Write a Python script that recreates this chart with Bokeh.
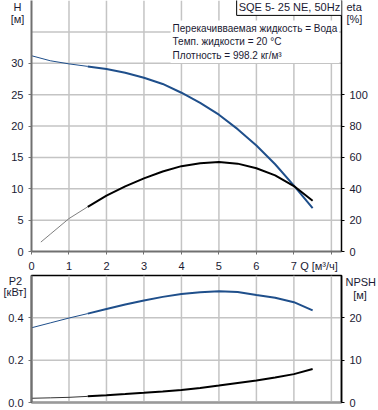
from bokeh.plotting import figure
from bokeh.models import Range1d, LinearAxis, FixedTicker, Label, PrintfTickFormatter, GridBox
from bokeh.core.properties import value
from bokeh.embed import file_html
from bokeh.resources import INLINE

# ---- data ----
Q = [0, 0.5, 1, 1.5, 2, 2.5, 3, 3.5, 4, 4.5, 5, 5.5, 6, 6.5, 7, 7.5]
H = [31.2, 30.4, 29.9, 29.5, 29.1, 28.5, 27.7, 26.7, 25.3, 23.7, 21.8, 19.5, 16.9, 13.9, 10.5, 6.9]
Q_eta = [0.25, 0.5, 1, 1.5, 2, 2.5, 3, 3.5, 4, 4.5, 5, 5.5, 6, 6.5, 7, 7.5]
ETA = [6, 11, 21, 28.5, 35.6, 41.5, 46.6, 51, 54.4, 56.3, 57, 56, 53.1, 48.5, 41.7, 32.3]
P2 = [0.353, 0.376, 0.399, 0.42, 0.442, 0.463, 0.482, 0.499, 0.513, 0.521, 0.526, 0.522, 0.508, 0.495, 0.474, 0.435]
NPSH = [1.0, 1.1, 1.22, 1.45, 1.7, 1.98, 2.28, 2.6, 2.95, 3.45, 4.0, 4.6, 5.2, 5.9, 6.7, 7.9]
Q_ticks = [0, 1, 2, 3, 4, 5, 6, 7, 8]
Q_labels = ["0", "1", "2", "3", "4", "5", "6", "7", ""]
Q_grid = [1, 2, 3, 4, 5, 6, 7, 8]
H_ticks = [0, 5, 10, 15, 20, 25, 30]
H_grid = [5, 10, 15, 20, 25, 30, 35]
ETA_ticks = [0, 20, 40, 60, 80, 100]
P2_ticks = [0.0, 0.2, 0.4]
P2_grid = [0.2, 0.4]
NPSH_ticks = [0, 10, 20]
Q_MIN_OP = 1.5  # start of recommended operating range (thick line)

Q_TITLE = ("Q [м³/ч]", 7.67)   # placed as a label on the Q axis
# axis titles beside the frames: text, x px, y px, alignment
TITLES = [("H", 17, 6, "center"), ("[м]", 17, 18, "center"),
          ("eta", 346, 6.5, "left"), ("[%]", 346, 18, "left"),
          ("P2", 15, 280, "center"), ("[кВт]", 14.5, 291, "center"),
          ("NPSH", 345, 281, "left"), ("[м]", 359.5, 294, "center")]

FONT = "Liberation Sans"
BLUE = "#1f4f8b"
TXT = "#1a1a33"
GRID = "#c4c4c4"


def split(xs, ys):
    a = [(x, y) for x, y in zip(xs, ys) if x <= Q_MIN_OP]
    b = [(x, y) for x, y in zip(xs, ys) if x >= Q_MIN_OP]
    return [p[0] for p in a], [p[1] for p in a], [p[0] for p in b], [p[1] for p in b]


def style_axis(ax, color, width, ticks, extra=None, overrides=None, fmt=None):
    ov = dict(overrides or {})
    extra_pos = []
    if extra:
        ov[extra[1]] = extra[0]
        extra_pos = [extra[1]]
    ax.ticker = FixedTicker(ticks=list(ticks) + extra_pos, minor_ticks=list(ticks))
    if fmt:
        ax.formatter = fmt
    if ov:
        ax.major_label_overrides = ov
    ax.axis_line_color = color
    ax.axis_line_width = width
    ax.major_tick_line_color = None
    ax.major_tick_out = 0
    ax.major_tick_in = 0
    ax.minor_tick_line_color = color
    ax.minor_tick_line_width = 1
    ax.minor_tick_out = 3
    ax.minor_tick_in = 0
    ax.major_label_text_font = FONT
    ax.major_label_text_font_size = "11px"
    ax.major_label_text_color = TXT
    ax.major_label_standoff = 5


def grid(p, xs, ys):
    # grid lines as line glyphs spanning the plot ranges
    y0, y1 = p.y_range.start, p.y_range.end
    x0, x1 = p.x_range.start, p.x_range.end
    p.multi_line(xs=[[x, x] for x in xs], ys=[[y0, y1] for _ in xs], line_color=GRID, line_width=1.5)
    p.multi_line(xs=[[x0, x1] for _ in ys], ys=[[y, y] for y in ys], line_color=GRID, line_width=1.5)


XR = Range1d(0, 8.27)

# ---------------- top plot ----------------
top = figure(width=378, height=274, x_range=XR, y_range=Range1d(0, 40),
             output_backend="svg", toolbar_location=None, frame_align=False,
             min_border_left=31, min_border_right=37, min_border_top=0, min_border_bottom=18)
top.extra_y_ranges = {"eta": Range1d(0, 160)}
top.outline_line_color = None
top.xgrid.visible = False
top.ygrid.visible = False

qov = {t: l for t, l in zip(Q_ticks, Q_labels)}
style_axis(top.xaxis[0], "#707070", 2, Q_ticks, Q_TITLE, qov)
style_axis(top.yaxis[0], "#707070", 2, H_ticks)
eta_ax = LinearAxis(y_range_name="eta")
style_axis(eta_ax, "black", 1.5, ETA_ticks)
top.add_layout(eta_ax, "right")
grid(top, Q_grid, H_grid)

qa, ha, qb, hb = split(Q, H)
top.line(qa, ha, line_color=BLUE, line_width=1)
top.line(qb, hb, line_color=BLUE, line_width=2)
qa, ea, qb, eb = split(Q_eta, ETA)
top.line(qa, ea, line_color="#808080", line_width=1, y_range_name="eta")
top.line(qb, eb, line_color="black", line_width=2, y_range_name="eta")

top.add_layout(Label(x=6.88, y=38.9, text="SQE 5- 25 NE, 50Hz", text_font=FONT, text_font_size="11px",
                     text_color=TXT, text_align="center", text_baseline="middle",
                     background_fill_color="white", border_line_color="black", border_line_width=1,
                     padding=2))
top.add_layout(Label(x=3.71, y=36.8,
                     text="Перекачивваемая жидкость = Вода\nТемп. жидкости = 20 °C\nПлотность = 998.2 кг/м³",
                     text_font=FONT, text_font_size="10px", text_color=TXT, text_align="left",
                     text_baseline="top", text_line_height=1.25,
                     background_fill_color="white", padding=2))

# ---------------- bottom plot ----------------
bot = figure(width=378, height=134, x_range=XR, y_range=Range1d(0, 0.6),
             output_backend="svg", toolbar_location=None, frame_align=False,
             min_border_left=31, min_border_right=37, min_border_top=1, min_border_bottom=6)
bot.extra_y_ranges = {"npsh": Range1d(0, 30)}
bot.outline_line_color = "black"
bot.outline_line_width = 1.5
bot.xgrid.visible = False
bot.ygrid.visible = False

style_axis(bot.xaxis[0], "#9a9a9a", 2, [])
style_axis(bot.yaxis[0], "#707070", 2, P2_ticks, fmt=PrintfTickFormatter(format="%.1f"))
npsh_ax = LinearAxis(y_range_name="npsh")
style_axis(npsh_ax, "black", 1.5, NPSH_ticks)
bot.add_layout(npsh_ax, "right")
grid(bot, Q_grid, P2_grid)

qa, pa, qb, pb = split(Q, P2)
bot.line(qa, pa, line_color=BLUE, line_width=1)
bot.line(qb, pb, line_color=BLUE, line_width=2)
qa, na, qb, nb = split(Q, NPSH)
bot.line(qa, na, line_color="#333333", line_width=1, y_range_name="npsh")
bot.line(qb, nb, line_color="black", line_width=2, y_range_name="npsh")

# ---------------- transparent overlay for the axis titles ----------------
ov = figure(width=378, height=408, x_range=Range1d(0, 378), y_range=Range1d(408, 0),
            x_axis_type=None, y_axis_type=None, output_backend="svg", toolbar_location=None,
            min_border=0, frame_align=False)
ov.outline_line_color = None
ov.background_fill_alpha = 0
ov.border_fill_alpha = 0
for align in ("left", "center"):
    rows = [t for t in TITLES if t[3] == align]
    ov.text(x=[r[1] for r in rows], y=[r[2] for r in rows], text=[r[0] for r in rows],
            text_font=value(FONT), text_font_size=value("11px"), text_color=TXT,
            text_align=align, text_baseline="middle")

layout = GridBox(children=[(top, 0, 0), (bot, 1, 0), (ov, 0, 0, 2, 1)], spacing=0)
open("out.html", "w").write(file_html(layout, INLINE))
